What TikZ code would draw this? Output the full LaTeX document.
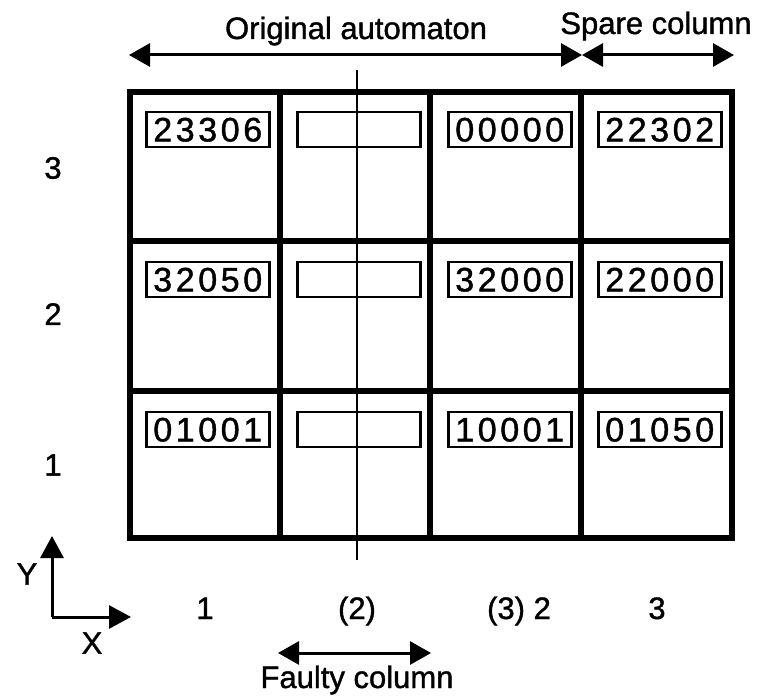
\documentclass[tikz,border=0pt]{standalone}
\usepackage{fontspec}
\setmainfont{Liberation Sans}[FakeBold=1.2]
\usetikzlibrary{arrows.meta}

% each digit of a register value in a fixed-width slot
\newcommand\regdigits[1]{\regdigitsi#1\relax}
\def\regdigitsi#1{\ifx#1\relax\else\makebox[22.5pt]{#1}\expandafter\regdigitsi\fi}

\begin{document}
\begin{tikzpicture}[x=1pt,y=-1pt,
  lbl/.style={font=\fontsize{31}{32}\selectfont, inner sep=0pt},
  gridline/.style={line width=5.5pt, line cap=rect},
  reg/.style={draw, line width=2.5pt, minimum width=123pt, minimum height=35pt,
              inner sep=0pt, anchor=north west, font=\fontsize{34}{34}\selectfont},
  dimarrow/.style={line width=3pt,
              {Triangle[length=21pt,width=23pt]}-{Triangle[length=21pt,width=23pt]}},
  axisarrow/.style={line width=3pt, -{Triangle[length=22pt,width=23pt]}},
]
\useasboundingbox (0,0) rectangle (758,700);

% processor array: 4 columns x 3 rows
\draw[gridline] (130,92) rectangle (732,538);
\foreach \x in {280,430,581} \draw[gridline] (\x,92) -- (\x,538);
\foreach \y in {241,391} \draw[gridline] (130,\y) -- (732,\y);

% cell registers (columns at 130/280/430/581, rows at 92/241/391)
\node[reg] (r13) at (145,111) {\regdigits{23306}};
\node[reg] (r23) at (296,111) {};
\node[reg] (r33) at (447,111) {\regdigits{00000}};
\node[reg] (r43) at (597,111) {\regdigits{22302}};
\node[reg] (r12) at (145,261) {\regdigits{32050}};
\node[reg] (r22) at (296,261) {};
\node[reg] (r32) at (447,261) {\regdigits{32000}};
\node[reg] (r42) at (597,261) {\regdigits{22000}};
\node[reg] (r11) at (145,411) {\regdigits{01001}};
\node[reg] (r21) at (296,411) {};
\node[reg] (r31) at (447,411) {\regdigits{10001}};
\node[reg] (r41) at (597,411) {\regdigits{01050}};

% line through the faulty column
\coordinate (cutTop) at (357,70);
\coordinate (cutBot) at (357,560);
\draw[line width=2.2pt] (cutTop) -- (cutBot);

% top dimension arrows
\coordinate (origL) at (129,55);
\coordinate (mid) at (582,55);
\coordinate (spareR) at (734,55);
\draw[dimarrow] (origL) -- (mid);
\draw[dimarrow] (mid) -- (spareR);
\node[lbl, anchor=base] (orig) at (356,39) {Original automaton};
\node[lbl, anchor=base] (spare) at (656,34) {Spare column};

% row indices
\node[lbl] (row3) at (53,168) {3};
\node[lbl] (row2) at (53,314) {2};
\node[lbl] (row1) at (53,465) {1};

% column indices
\node[lbl, anchor=base] (col1) at (205,619) {1};
\node[lbl, anchor=base] (col2) at (357,619) {(2)};
\node[lbl, anchor=base] (col3) at (519,619) {(3) 2};
\node[lbl, anchor=base] (col4) at (657,619) {3};

% coordinate axes
\coordinate (O) at (52,617);
\coordinate (Ytip) at (52,536);
\coordinate (Xtip) at (131,617);
\draw[axisarrow] (O) -- (Ytip);
\draw[axisarrow] (O) -- (Xtip);
\node[lbl] (ylab) at (27,574) {Y};
\node[lbl] (xlab) at (92,643) {X};

% faulty column marker
\coordinate (faultL) at (278,653);
\coordinate (faultR) at (431,653);
\draw[dimarrow] (faultL) -- (faultR);
\node[lbl, anchor=base] (faulty) at (357,688) {Faulty column};
\end{tikzpicture}
\end{document}
